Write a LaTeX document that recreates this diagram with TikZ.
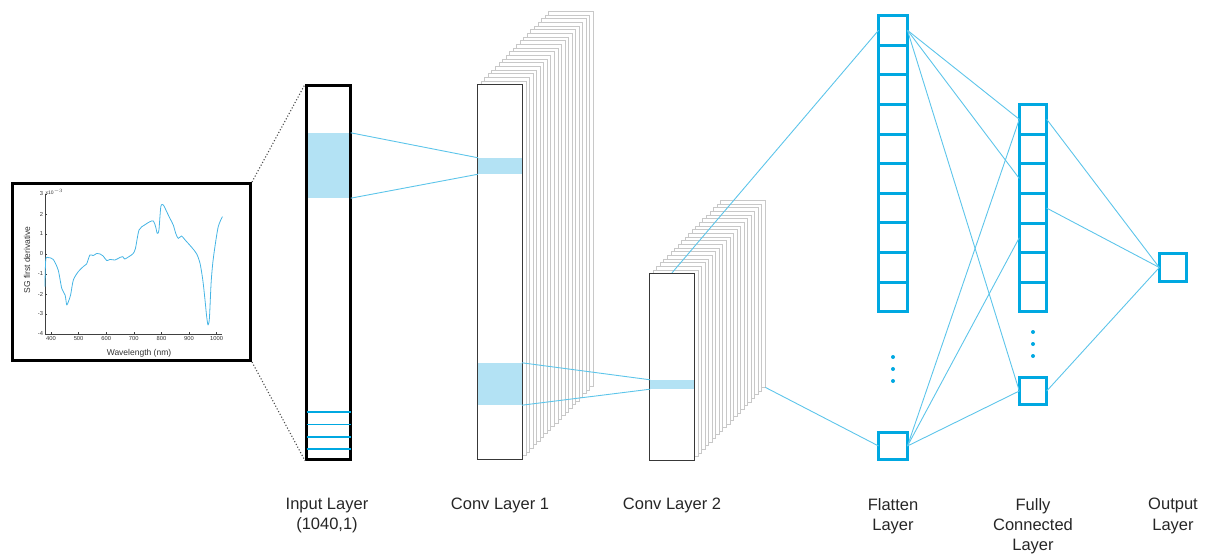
\documentclass[tikz,border=0pt]{standalone}
\usepackage{fontspec}
\setmainfont{Liberation Sans}
\definecolor{cellblue}{HTML}{00A8E1}
\definecolor{linkblue}{HTML}{5DC5EA}
\definecolor{bandfill}{HTML}{B3E2F4}
\definecolor{plotblue}{HTML}{45B4E4}
\definecolor{labelc}{HTML}{262626}
\definecolor{sheetc}{HTML}{C8C8C8}
\definecolor{frontc}{HTML}{383838}
\begin{document}
\begin{tikzpicture}[x=1pt,y=-1pt,
  cell/.style={inner sep=0pt,minimum width=27pt,minimum height=27pt},
  fcell/.style={cell,minimum width=28.5pt},
  cline/.style={draw=cellblue,line width=3pt},
  link/.style={draw=linkblue,line width=0.9pt},
  band/.style={fill=bandfill,inner sep=0pt,minimum width=44pt},
  sheet/.style={draw=sheetc,line width=0.8pt,fill=white},
  front/.style={draw=frontc,line width=1.5pt,fill=white,inner sep=0pt,minimum width=44.8pt},
  lbl/.style={text=labelc,align=center,anchor=north,inner sep=0pt,font=\fontsize{16.5}{20.3}\selectfont},
  tickl/.style={inner sep=0pt,text=black!80,font=\fontsize{5.8}{6}\selectfont},
  dotc/.style={fill=cellblue}
]
\useasboundingbox (0,0) rectangle (1211,556);

% ---------- spectrum plot ----------
\node[draw=black,line width=3pt,minimum width=238pt,minimum height=177pt,inner sep=0pt] (plotbox) at (131.5,272) {};
\draw[black!75,line width=0.5pt] (45,194) -- (45,334) -- (222,334);
\foreach \v in {3,2,1,0,-1,-2,-3,-4}{
  \draw[black!75,line width=0.4pt] (45,{194+(3-\v)*20}) -- (47,{194+(3-\v)*20});
  \node[tickl,anchor=east] (yt\v) at (43.3,{194+(3-\v)*20}) {\v};
}
\foreach \w in {400,500,600,700,800,900,1000}{
  \draw[black!75,line width=0.4pt] ({51+(\w-400)*0.276},334) -- ({51+(\w-400)*0.276},332);
  \node[tickl,anchor=north] (xt\w) at ({51+(\w-400)*0.276},336.5) {\w};
}
\node[tickl,anchor=south west,font=\fontsize{5}{5}\selectfont] (expo) at (45.5,195) {x10$^{-3}$};
\node[text=black!80,font=\fontsize{8.5}{9}\selectfont,inner sep=0pt] (xlab) at (139,353) {Wavelength (nm)};
\node[text=black!80,font=\fontsize{8.5}{9}\selectfont,inner sep=0pt,rotate=90] (ylab) at (27,260) {SG first derivative};
\begin{scope}[shift={(-59.4,254)},x=0.276pt,y=20pt]
\draw[plotblue,line width=0.8pt,line join=round] plot[smooth,tension=0.45] coordinates {
(378,-1.63) (381,-0.27) (390,-0.18) (408,-0.27) (426,-0.8) (439,-1.72) (451,-2.05)
(457,-2.55) (463,-2.38) (471,-2.05) (481,-1.3) (499,-0.88) (517,-0.63) (529,-0.5)
(541,-0.05) (553,-0.08) (566,0.03) (578,0) (589,-0.1) (602,-0.33) (614,-0.27)
(632,-0.3) (650,-0.17) (660,-0.13) (667,-0.25) (686,-0.1) (698,0.03) (706,0.28)
(719,1.2) (739,1.45) (759,1.62) (771,1.65) (779,1.37) (785,1.03) (791,1.2)
(798,2.37) (807,2.45) (819,2.12) (831,1.78) (843,1.45) (852,1.03) (861,0.78)
(873,0.9) (886,0.7) (910,0.33) (928,0) (940,-0.47) (950,-1.3) (958,-2.3)
(964,-3.13) (969,-3.55) (974,-3.2) (980,-1.47) (986,-0.47) (994,0.37) (1006,1.37) (1021,1.87)};
\end{scope}

% ---------- input layer ----------
\node[band,minimum height=65pt] (inband) at (328.5,165.5) {};
\node[draw=black,line width=2.8pt,minimum width=44pt,minimum height=374pt,inner sep=0pt] (inp) at (328.5,272.5) {};
\foreach \yy in {412,424.5,437,449}
  \draw[cellblue,line width=1.6pt] (306.5,\yy) -- (350.5,\yy);
\draw[black!70,line width=1.1pt,dotted] (plotbox.north east) -- (inp.north west);
\draw[black!70,line width=1.1pt,dotted] (plotbox.south east) -- (inp.south west);

% ---------- conv layer 1 ----------
\foreach \i in {20,...,1}
  \draw[sheet] ({477.6+\i*3.55},{84.6-\i*3.65}) rectangle ++(44.8,374.8);
\node[front,minimum height=374.8pt] (conv1) at (500,272) {};
\node[band,minimum height=16pt,minimum width=43.3pt] (c1a) at (500,166) {};
\node[band,minimum height=42pt,minimum width=43.3pt] (c1b) at (500,384) {};

% ---------- conv layer 2 ----------
\foreach \i in {20,...,1}
  \draw[sheet] ({649.6+\i*3.55},{273.6-\i*3.65}) rectangle ++(44.8,186.8);
\node[front,minimum height=186.8pt] (conv2) at (672,367) {};
\node[band,minimum height=9pt,minimum width=43.3pt] (c2a) at (672,384.5) {};
\coordinate (c2back) at ({694.4+20*3.55},{460.4-20*3.65});

% ---------- flatten layer ----------
\foreach \i in {1,...,10}
  \node[fcell,minimum height=29.6pt] (f\i) at (893,{15.5+29.6*(\i-0.5)}) {};
\node[fcell] (fb) at (893,446) {};
\draw[cline] (f1.north west) rectangle (f10.south east);
\foreach \i in {1,...,9} \draw[cline] (f\i.south west) -- (f\i.south east);
\draw[cline] (fb.north west) rectangle (fb.south east);
\foreach \yy in {357,369,381} \fill[dotc] (893,\yy) circle (2pt);

% ---------- fully connected layer ----------
\foreach \i in {1,...,7}
  \node[cell,minimum height=29.6pt] (c\i) at (1033,{104.5+29.6*(\i-0.5)}) {};
\node[cell] (cb) at (1033,391) {};
\draw[cline] (c1.north west) rectangle (c7.south east);
\foreach \i in {1,...,6} \draw[cline] (c\i.south west) -- (c\i.south east);
\draw[cline] (cb.north west) rectangle (cb.south east);
\foreach \yy in {332,344,356} \fill[dotc] (1033,\yy) circle (2pt);

% ---------- output ----------
\node[cell] (out) at (1173,267.5) {};
\draw[cline] (out.north west) rectangle (out.south east);

% ---------- connectors ----------
\draw[link] (inband.north east) -- (c1a.north west);
\draw[link] (inband.south east) -- (c1a.south west);
\draw[link] (c1b.north east) -- (c2a.north west);
\draw[link] (c1b.south east) -- (c2a.south west);
\draw[link] (conv2.north) -- (f1.west);
\draw[link] (c2back) -- (fb.west);
\draw[link] (f1.east) -- (c1.west);
\draw[link] (f1.east) -- (c3.west);
\draw[link] (f1.east) -- (cb.west);
\draw[link] (fb.east) -- (c1.west);
\draw[link] (fb.east) -- (c5.west);
\draw[link] (fb.east) -- (cb.west);
\draw[link] (c1.east) -- (out.west);
\draw[link] (c4.east) -- (out.west);
\draw[link] (cb.east) -- (out.west);

% ---------- labels ----------
\node[lbl] (l1) at (327,498) {Input Layer\\(1040,1)};
\node[lbl] (l2) at (500,498) {Conv Layer 1};
\node[lbl] (l3) at (672,498) {Conv Layer 2};
\node[lbl] (l4) at (893,498) {Flatten\\Layer};
\node[lbl] (l5) at (1033,498) {Fully\\Connected\\Layer};
\node[lbl] (l6) at (1173,498) {Output\\Layer};
\end{tikzpicture}
\end{document}
